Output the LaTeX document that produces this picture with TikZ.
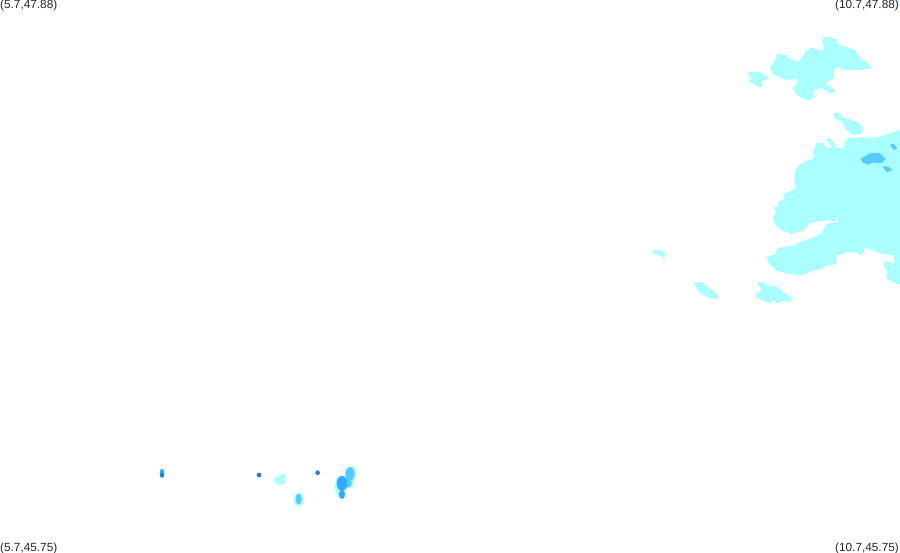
\documentclass[tikz,border=0pt]{standalone}
\usepackage{fontspec}
\setmainfont{Liberation Sans}
\usepackage{tikz}
\definecolor{rainA}{HTML}{AAFFFF}
\definecolor{rainB}{HTML}{55CCFF}
\definecolor{rainC}{HTML}{33AAFF}
\definecolor{rainD}{HTML}{2277DD}
\tikzset{
  cornerlabel/.style={inner sep=0pt, font=\fontsize{11.8}{13}\selectfont, text=black!85},
  patch/.style={fill=#1, draw=none, rounded corners=0.5pt},
  spot/.style={fill=#1, draw=none},
}
\begin{document}
\begin{tikzpicture}[x=1pt,y=-1pt]
    \useasboundingbox (0,0) rectangle (900,552);
    \fill[white] (0,0) rectangle (900,552);
    \begin{scope}
    \clip (0,0) rectangle (900,552);
    % north patch
    \begin{scope}[shift={(640,0)},x=0.3333pt,y=-0.3333pt]
    \fill[patch=rainA] (548,113) -- (570,110) -- (592,120) -- (592,133) -- (627,143) -- (647,153) -- (662,178) -- (680,183) -- (694,205) -- (660,210) -- (630,210) -- (610,210) -- (592,198) -- (582,210) -- (580,237) -- (564,242) -- (557,253) -- (577,263) -- (587,277) -- (570,279) -- (545,264) -- (527,268) -- (517,283) -- (527,290) -- (510,300) -- (490,297) -- (468,282) -- (458,264) -- (473,247) -- (468,237) -- (440,240) -- (398,224) -- (391,200) -- (408,178) -- (413,161) -- (437,163) -- (447,176) -- (476,186) -- (498,153) -- (515,143) -- (545,153) -- (553,150) -- (546,125) -- cycle;
    \fill[patch=rainA] (325,215) -- (360,216) -- (385,232) -- (377,242) -- (362,240) -- (370,258) -- (355,262) -- (335,247) -- (323,242) -- (338,235) -- (323,228) -- cycle;
    \fill[patch=rainA] (580,341) -- (590,338) -- (615,356) -- (630,358) -- (657,368) -- (670,385) -- (662,402) -- (640,405) -- (616,387) -- (608,367) -- (583,354) -- cycle;
    \fill[rainA] (775,0) rectangle (780,8);
    \end{scope}
    % main mass on the right
    \begin{scope}[shift={(640,140)},x=0.3333pt,y=-0.3333pt]
    \fill[patch=rainA] (785,-32) -- (745,-18) -- (712,-8) -- (662,-5) -- (630,-8) -- (613,5) -- (610,25) -- (560,22) -- (548,8) -- (530,10) -- (518,35) -- (523,55) -- (495,63) -- (478,76) -- (466,90) -- (463,125) -- (468,140) -- (458,150) -- (433,160) -- (430,180) -- (416,185) -- (413,203) -- (400,200) -- (408,215) -- (398,230) -- (403,250) -- (423,270) -- (455,282) -- (490,272) -- (505,252) -- (530,245) -- (565,240) -- (582,245) -- (592,230) -- (592,247) -- (562,250) -- (542,282) -- (515,294) -- (490,302) -- (460,317) -- (430,322) -- (413,323) -- (408,340) -- (378,352) -- (393,377) -- (410,392) -- (440,400) -- (470,404) -- (490,405) -- (510,394) -- (540,387) -- (560,377) -- (587,372) -- (590,347) -- (620,337) -- (650,337) -- (665,347) -- (675,322) -- (700,332) -- (725,342) -- (785,347) -- cycle;
    \fill[patch=rainA] (556,-3) -- (570,-5) -- (592,22) -- (580,25) -- cycle;
    \fill[patch=rainA] (760,345) -- (785,345) -- (785,432) -- (770,432) -- (738,414) -- (743,395) -- (731,380) -- (733,363) -- (763,372) -- cycle;
    \fill[patch=rainA] (38,331) -- (65,331) -- (80,350) -- (65,352) -- (55,342) -- (40,342) -- cycle;
    \fill[patch=rainA] (161,428) -- (185,426) -- (207,443) -- (234,463) -- (234,477) -- (205,474) -- (178,457) -- cycle;
    \fill[patch=rainA] (350,428) -- (370,426) -- (382,438) -- (407,438) -- (432,458) -- (457,475) -- (452,485) -- (420,484) -- (410,490) -- (400,480) -- (392,490) -- (375,484) -- (346,472) -- (348,458) -- (363,456) -- (363,445) -- cycle;
    \fill[patch=rainB] (663,55) -- (690,40) -- (717,38) -- (737,55) -- (727,70) -- (700,67) -- (685,74) -- (666,67) -- cycle;
    \fill[patch=rainB] (728,78) -- (745,80) -- (757,90) -- (740,97) -- cycle;
    \fill[patch=rainB] (750,15) -- (760,10) -- (772,25) -- (762,30) -- cycle;
    \end{scope}
    % southern cells
    \begin{scope}[shift={(140,455)},x=0.3333pt,y=-0.3333pt]
    \fill[spot=rainC] (66,55) ellipse [x radius=7, y radius=14];
    \fill[spot=rainD] (66,60) ellipse [x radius=6, y radius=7];
    \fill[spot=rainD] (357,60) circle [radius=7];
    \fill[spot=rainD] (533,53) circle [radius=7];
    \fill[patch=rainA] (403,68) -- (425,58) -- (437,56) -- (434,87) -- (415,90) -- (403,84) -- cycle;
    \fill[spot=rainA] (476,134) ellipse [x radius=15, y radius=20];
    \fill[spot=rainB] (476,132) ellipse [x radius=9, y radius=16];
    \fill[patch=rainA] (630,38) -- (647,33) -- (647,65) -- (637,97) -- (618,102) -- (618,127) -- (595,127) -- (583,97) -- (590,66) -- (615,60) -- cycle;
    \fill[spot=rainB] (630,56) ellipse [x radius=14, y radius=20];
    \fill[spot=rainB] (622,84) ellipse [x radius=14, y radius=14];
    \fill[spot=rainC] (606,85) ellipse [x radius=16, y radius=22];
    \fill[spot=rainC] (606,118) ellipse [x radius=9, y radius=14];
    \end{scope}
    \end{scope}
    \node[cornerlabel, anchor=west] (nw) at (0,5.5) {(5.7,47.88)};
    \node[cornerlabel, anchor=east] (ne) at (899,5.5) {(10.7,47.88)};
    \node[cornerlabel, anchor=west] (sw) at (0,548) {(5.7,45.75)};
    \node[cornerlabel, anchor=east] (se) at (899,548) {(10.7,45.75)};
\end{tikzpicture}
\end{document}
